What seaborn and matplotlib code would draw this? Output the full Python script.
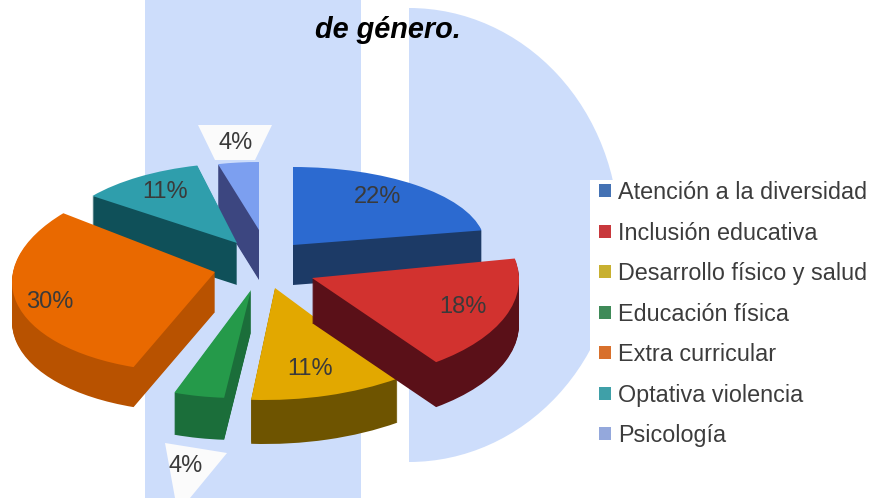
import matplotlib
matplotlib.use("Agg")
import matplotlib.pyplot as plt
import seaborn as sns
from matplotlib.patches import Rectangle, Ellipse, Polygon, Patch
from matplotlib.transforms import Affine2D

categories = ["Atención a la diversidad", "Inclusión educativa", "Desarrollo físico y salud",
              "Educación física", "Extra curricular", "Optativa violencia", "Psicología"]
values = [22, 18, 11, 4, 30, 11, 4]
value_labels = ["22%", "18%", "11%", "4%", "30%", "11%", "4%"]

top_hex = ["#2C6AD0", "#D2322F", "#E2A800", "#259A4A", "#E96900", "#2F9EAC", "#7C9FF0"]
side_hex = ["#1C3A66", "#5A1018", "#6E5400", "#1B6E3A", "#B85200", "#0F5059", "#3C4680"]
legend_hex = ["#4472B4", "#C8383C", "#C8B030", "#3F8A58", "#D8702C", "#3FA0A8", "#94A8DC"]

# per-slice placement: cx, cy, rx, ry, skew, depth (px)
geom = [
    (293, 245, 192, 78, 0, 40),
    (312, 278, 207, 104, -3, 45),
    (275, 288, 222, 112, 10, 44),
    (251, 290, 205, 108, 14, 42),
    (215, 272, 202, 100, 20, 40),
    (237, 243, 183, 80, 6, 42),
    (259, 230, 165, 68, 0, 50),
]
draw_order = [6, 5, 0, 4, 3, 2, 1]
label_pos = [(378, 197), (463, 307), (310, 369), (186, 466), (50, 302), (165, 192), (236, 143)]

sns.set_theme(style="white")
plt.rcParams["font.family"] = ["Liberation Sans", "DejaVu Sans"]
top_colors = sns.color_palette(top_hex)
side_colors = sns.color_palette(side_hex)
legend_colors = sns.color_palette(legend_hex)

fig = plt.figure(figsize=(8.69, 4.98), dpi=100, facecolor="white")
ax = fig.add_axes([0, 0, 1, 1])

bg = "#CDDDFB"
ax.add_patch(Rectangle((145, 0), 216, 498, fc=bg, ec="none", zorder=0))
ax.add_patch(Ellipse((409, 235), 420, 454, fc=bg, ec="none", zorder=0))
ax.add_patch(Rectangle((361, 0), 48, 498, fc="white", ec="none", zorder=0.5))
ax.add_patch(Rectangle((590, 180), 279, 275, fc="white", ec="none", zorder=0.6))
ax.add_patch(Polygon([(198, 125), (272, 125), (255, 160), (215, 160)], fc="#FBFBFB", ec="none", zorder=0.7))
ax.add_patch(Polygon([(165, 443), (227, 453), (190, 498), (175, 498)], fc="#FBFBFB", ec="none", zorder=0.7))


def draw_slice(i, color, dy, z):
    cx, cy, rx, ry, k, _ = geom[i]
    wedges, _t = ax.pie(values, startangle=90, counterclock=False, colors=[color] * len(values),
                        wedgeprops={"linewidth": 0})
    for j, w in enumerate(wedges):
        if j != i:
            w.remove()
        else:
            m = Affine2D.from_values(rx, 0, k, -ry, cx, cy + dy)
            w.set_transform(m + ax.transData)
            w.set_zorder(z)


for n, i in enumerate(draw_order):
    depth = geom[i][5]
    base = 1 + n
    for d in range(depth, 0, -1):
        draw_slice(i, side_colors[i], d, base)
    draw_slice(i, top_colors[i], 0, base + 0.5)

for (x, y), t in zip(label_pos, value_labels):
    ax.text(x, y, t, ha="center", va="center", fontsize=17, color="#3A3A3A", zorder=20)

ax.text(388, 30, "de género.", ha="center", va="center", fontsize=20.8,
        fontweight="bold", fontstyle="italic", color="black", zorder=20)

handles = [Patch(fc=c, ec="none") for c in legend_colors]
ax.legend(handles, categories, loc="upper left", bbox_to_anchor=(599, 181),
          bbox_transform=ax.transData, frameon=False, fontsize=16.8, handlelength=0.5,
          handleheight=0.5, handletextpad=0.3, borderpad=0, borderaxespad=0,
          labelspacing=0.75, labelcolor="#3C3C3C")

ax.set_xlim(0, 869)
ax.set_ylim(498, 0)
ax.set_aspect("auto")
ax.axis("off")
fig.savefig("out.png", dpi=100, facecolor="white")
